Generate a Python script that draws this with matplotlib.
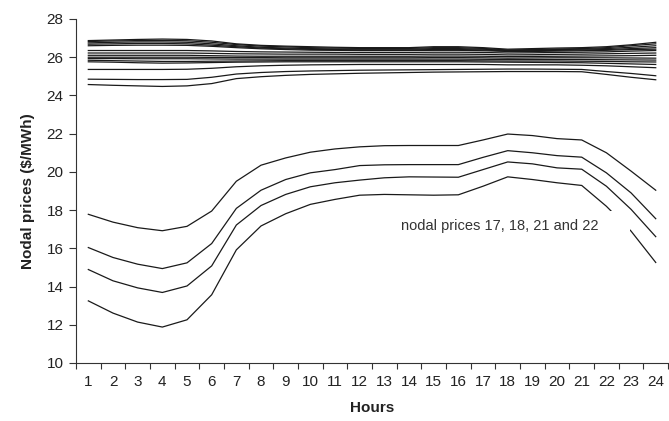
import matplotlib
matplotlib.use("Agg")
import matplotlib.pyplot as plt
from matplotlib.patches import Rectangle
from matplotlib.ticker import FixedLocator, NullFormatter

plt.rcParams['font.family'] = ['Liberation Sans', 'DejaVu Sans']

hours = list(range(1, 25))

# nodes that stay near 26 $/MWh all day
node_01 = [26.87, 26.90, 26.93, 26.95, 26.93, 26.85, 26.70, 26.62, 26.58, 26.55, 26.52, 26.50,
           26.50, 26.50, 26.55, 26.55, 26.50, 26.42, 26.45, 26.48, 26.50, 26.55, 26.65, 26.78]
node_02 = [26.82, 26.85, 26.87, 26.88, 26.86, 26.78, 26.66, 26.58, 26.54, 26.50, 26.48, 26.46,
           26.46, 26.46, 26.50, 26.50, 26.46, 26.38, 26.40, 26.43, 26.45, 26.50, 26.60, 26.70]
node_03 = [26.75, 26.78, 26.80, 26.80, 26.78, 26.70, 26.60, 26.52, 26.48, 26.45, 26.43, 26.42,
           26.42, 26.42, 26.45, 26.45, 26.42, 26.35, 26.37, 26.40, 26.42, 26.45, 26.52, 26.60]
node_04 = [26.68, 26.70, 26.72, 26.72, 26.70, 26.63, 26.55, 26.48, 26.44, 26.41, 26.40, 26.38,
           26.38, 26.38, 26.40, 26.40, 26.38, 26.32, 26.34, 26.36, 26.38, 26.40, 26.45, 26.50]
node_05 = [26.60, 26.62, 26.63, 26.63, 26.62, 26.57, 26.50, 26.44, 26.40, 26.37, 26.36, 26.35,
           26.35, 26.35, 26.36, 26.36, 26.34, 26.30, 26.30, 26.32, 26.34, 26.36, 26.40, 26.42]
node_06 = [26.35, 26.35, 26.35, 26.35, 26.35, 26.33, 26.30, 26.28, 26.27, 26.26, 26.25, 26.25,
           26.25, 26.25, 26.26, 26.26, 26.25, 26.22, 26.23, 26.25, 26.26, 26.28, 26.32, 26.35]
node_07 = [26.22, 26.22, 26.22, 26.22, 26.22, 26.20, 26.18, 26.17, 26.16, 26.16, 26.16, 26.15,
           26.15, 26.15, 26.16, 26.16, 26.15, 26.12, 26.13, 26.15, 26.16, 26.18, 26.20, 26.22]
node_08 = [26.10, 26.10, 26.10, 26.10, 26.10, 26.08, 26.06, 26.05, 26.05, 26.05, 26.05, 26.05,
           26.05, 26.05, 26.06, 26.06, 26.05, 26.03, 26.04, 26.05, 26.06, 26.07, 26.08, 26.10]
node_09 = [26.00, 26.00, 26.00, 26.00, 26.00, 25.99, 25.98, 25.98, 25.97, 25.97, 25.97, 25.97,
           25.97, 25.97, 25.98, 25.98, 25.97, 25.95, 25.96, 25.97, 25.97, 25.97, 25.96, 25.95]
node_10 = [25.93, 25.93, 25.92, 25.92, 25.92, 25.91, 25.90, 25.90, 25.90, 25.90, 25.90, 25.90,
           25.90, 25.90, 25.90, 25.90, 25.89, 25.88, 25.88, 25.88, 25.88, 25.87, 25.86, 25.85]
node_11 = [25.84, 25.82, 25.80, 25.78, 25.78, 25.79, 25.80, 25.81, 25.82, 25.82, 25.82, 25.82,
           25.82, 25.82, 25.82, 25.82, 25.81, 25.80, 25.80, 25.80, 25.79, 25.78, 25.76, 25.75]
node_12 = [25.76, 25.74, 25.71, 25.69, 25.70, 25.72, 25.74, 25.75, 25.76, 25.76, 25.76, 25.76,
           25.76, 25.76, 25.76, 25.76, 25.75, 25.74, 25.73, 25.72, 25.71, 25.68, 25.65, 25.62]
node_13 = [25.36, 25.36, 25.36, 25.36, 25.37, 25.42, 25.50, 25.55, 25.58, 25.60, 25.61, 25.62,
           25.62, 25.62, 25.62, 25.62, 25.62, 25.60, 25.60, 25.60, 25.58, 25.55, 25.50, 25.45]
node_14 = [24.85, 24.84, 24.83, 24.83, 24.84, 24.95, 25.12, 25.20, 25.25, 25.28, 25.30, 25.32,
           25.33, 25.34, 25.35, 25.36, 25.37, 25.38, 25.38, 25.37, 25.36, 25.25, 25.15, 25.03]
node_15 = [24.57, 24.53, 24.50, 24.47, 24.50, 24.62, 24.88, 24.98, 25.05, 25.10, 25.13, 25.16,
           25.18, 25.20, 25.22, 25.23, 25.24, 25.25, 25.25, 25.25, 25.24, 25.10, 24.95, 24.82]

# the four low-price nodes named in the note
node_17 = [17.78, 17.37, 17.08, 16.92, 17.15, 17.95, 19.51, 20.35, 20.73, 21.03, 21.20, 21.31,
           21.37, 21.38, 21.38, 21.38, 21.67, 21.98, 21.90, 21.74, 21.67, 21.00, 20.04, 19.04]
node_18 = [16.04, 15.52, 15.17, 14.94, 15.24, 16.25, 18.09, 19.04, 19.60, 19.95, 20.12, 20.33,
           20.37, 20.38, 20.38, 20.38, 20.76, 21.11, 21.00, 20.85, 20.77, 19.95, 18.90, 17.55]
node_21 = [14.89, 14.30, 13.93, 13.69, 14.03, 15.08, 17.22, 18.24, 18.82, 19.22, 19.43, 19.57,
           19.69, 19.74, 19.73, 19.72, 20.12, 20.52, 20.42, 20.21, 20.14, 19.25, 18.04, 16.61]
node_22 = [13.25, 12.61, 12.14, 11.88, 12.26, 13.57, 15.92, 17.17, 17.81, 18.30, 18.56, 18.78,
           18.82, 18.80, 18.78, 18.80, 19.25, 19.74, 19.60, 19.43, 19.29, 18.20, 16.90, 15.26]

series = [node_01, node_02, node_03, node_04, node_05, node_06, node_07, node_08,
          node_09, node_10, node_11, node_12, node_13, node_14, node_15,
          node_17, node_18, node_21, node_22]

fig = plt.figure(figsize=(6.69, 4.21), dpi=100)
ax = fig.add_axes([0.1136, 0.1378, 0.885, 0.8171])

for s in series:
    ax.plot(hours, s, color='#1a1a1a', lw=0.9, zorder=2)

# white text box of the annotation sits over the lines
ax.add_patch(Rectangle((13.4, 16.55), 22.95 - 13.4, 17.95 - 16.55,
                       facecolor='white', edgecolor='none', zorder=3))
ax.text(13.66, 17.17, 'nodal prices 17, 18, 21 and 22', ha='left', va='center',
        fontsize=10.5, color='#333333', zorder=4)

ax.set_xlim(0.5, 24.5)
ax.set_ylim(10, 28)
ax.set_yticks(range(10, 29, 2))

# category axis: tick marks between hours, labels centred on hours
ax.xaxis.set_major_locator(FixedLocator([h + 0.5 for h in range(0, 25)]))
ax.xaxis.set_major_formatter(NullFormatter())
ax.xaxis.set_minor_locator(FixedLocator(hours))
ax.set_xticklabels([str(h) for h in hours], minor=True)
ax.tick_params(axis='x', which='major', direction='out', length=4, width=0.8, color='#333333')
ax.tick_params(axis='x', which='minor', length=0, pad=9, labelsize=11, labelcolor='#222222')
ax.tick_params(axis='y', direction='out', length=5, width=0.8, pad=4,
               labelsize=11, labelcolor='#222222', color='#333333')

for side in ('top', 'right'):
    ax.spines[side].set_visible(False)
for side in ('left', 'bottom'):
    ax.spines[side].set_color('#333333')
    ax.spines[side].set_linewidth(0.8)

ax.set_xlabel('Hours', fontsize=11, fontweight='bold', color='#222222', labelpad=8)
ax.set_ylabel('Nodal prices ($/MWh)', fontsize=11, fontweight='bold', color='#222222')
ax.yaxis.set_label_coords(-0.07, 0.5)

fig.savefig('out.png', dpi=100)
